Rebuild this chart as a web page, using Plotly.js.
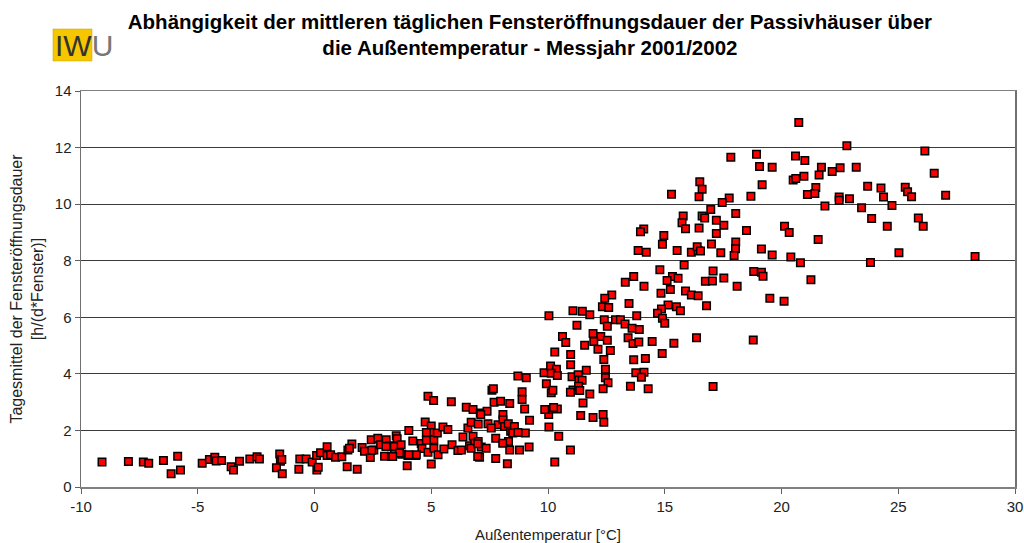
<!DOCTYPE html>
<html>
<head>
<meta charset="utf-8">
<script src="https://cdn.plot.ly/plotly-3.0.1.min.js"></script>
<style>html,body{margin:0;padding:0;background:#fff;}#chart{width:1024px;height:543px;}</style>
</head>
<body>
<div id="chart"></div>
<script>
// Außentemperatur [°C]
const temperature = [
-9.1,-7.97,-7.33,-7.1,-6.47,-6.14,-5.86,-5.74,-4.81,-4.5,-4.27,-4.21,-3.98,-3.57,-3.47,-3.21,-2.77,-2.46,-2.36,-1.49,-1.46,-1.4,-1.63,-1.38,-0.67,-0.63,-0.36,-0.1,0.09,0.1,0.16,0.26,0.54,0.54,0.69,
0.9,1.17,1.43,1.6,1.5,1.4,1.83,2.04,2.14,2.39,2.43,2.54,2.71,2.83,3.07,3.0,3.21,3.29,3.5,3.54,3.57,3.43,3.74,4.0,3.97,4.04,4.21,4.33,4.57,4.6,4.74,4.86,5.0,4.97,5.1,4.86,5.0,5.11,5.11,5.26,5.29,5.5,5.54,5.71,5.86,5.89,6.14,6.36,6.5,6.57,6.64,6.71,6.79,6.79,6.86,7.07,7.1,7.14,7.39,7.43,7.6,7.66,7.69,7.76,7.76,7.86,7.97,8.07,8.07,8.14,8.26,8.31,8.36,8.4,8.36,8.71,8.89,8.89,9.0,9.03,9.07,9.19,9.21,9.83,9.93,10.03,10.11,10.14,10.29,10.36,10.4,10.46,10.0,9.86,
7.01,4.79,4.79,4.36,4.04,3.42,3.71,3.64,3.35,3.06,6.29,6.71,6.99,7.01,2.45,7.12,8.3,7.57,8.56,8.49,8.71,7.35,8.06,8.78,6.99,
13.86,14.21,15.53,16.14,16.43,15.83,14.79,15.33,15.57,15.1,13.67,13.31,14.11,15.24,14.84,15.89,16.14,16.43,12.73,12.43,12.33,12.6,13.47,15.14,15.5,15.67,14.86,14.69,14.9,15.0,10.04,11.07,11.47,11.79,11.24,12.41,12.54,12.89,13.1,13.3,13.6,13.8,13.91,10.62,10.76,11.93,12.26,12.54,11.57,11.96,12.14,12.67,10.29,10.97,10.97,12.39,11.64,12.46,13.43,13.64,13.89,14.46,15.39,13.67,14.17,14.89,16.36,13.76,14.11,14.0,13.53,14.29,10.36,10.14,10.4,11.03,11.29,11.33,11.46,12.46,12.57,12.36,10.21,11.07,10.96,11.31,11.36,11.79,11.5,10.24,11.4,11.93,12.36,12.39,10.04,10.96,
16.5,16.6,16.47,15.29,19.17,18.69,17.76,17.46,16.97,18.04,15.79,16.6,16.71,15.74,15.89,17.21,17.53,16.47,17.21,18.5,14.1,13.96,14.96,14.9,16.39,16.53,17.0,17.4,18.04,18.03,17.97,19.14,19.6,17.07,18.81,19.14,19.21,16.74,17.04,17.53,18.1,19.5,16.79,18.79,
20.74,22.8,26.14,17.83,18.93,20.6,21.0,19.06,19.6,21.71,22.51,23.2,22.17,26.54,20.5,20.61,20.96,21.61,21.47,21.43,21.11,22.47,22.47,22.91,23.69,24.26,25.3,25.4,25.57,24.37,24.73,27.03,23.43,21.86,23.86,24.53,25.86,26.07,20.13,20.33,21.57,20.4,20.81,23.81,25.03,28.29,21.26,20.11,17.07
];
// Tagesmittel der Fensteröffnungsdauer [h/(d*Fenster)]
const openingHours = [
0.88,0.9,0.88,0.84,0.94,0.47,1.09,0.6,0.84,0.97,1.05,0.92,0.94,0.72,0.6,0.91,0.99,1.07,0.99,1.17,0.91,0.97,0.68,0.47,0.63,0.99,0.99,0.88,1.11,0.6,0.7,1.21,1.42,1.11,1.14,
1.05,1.07,1.31,1.52,1.37,0.72,0.63,1.4,1.26,1.04,1.67,1.31,1.72,1.49,1.67,1.09,1.46,1.09,1.81,1.71,1.46,1.26,1.16,1.11,0.75,2.0,1.63,1.11,1.54,1.36,2.3,3.21,2.16,1.93,3.06,1.23,0.81,1.67,1.37,1.91,1.14,2.12,1.34,2.03,3.01,1.49,1.29,1.77,2.82,2.09,1.46,2.29,2.74,1.79,1.55,1.05,2.62,1.41,2.68,2.24,3.42,3.47,3.0,1.72,1.01,2.2,3.03,2.56,2.38,2.14,0.82,1.61,2.95,1.97,1.31,3.92,3.37,3.09,2.76,1.91,3.86,1.41,2.36,4.04,3.65,2.56,4.28,3.33,0.88,4.04,2.76,1.79,2.74,2.74,
2.23,1.93,1.65,1.14,1.14,1.43,1.49,1.2,1.08,1.43,1.31,1.37,1.08,1.61,1.3,2.56,2.24,2.09,2.14,1.91,1.93,1.37,1.55,1.31,1.53,
8.36,8.3,8.36,8.3,8.36,7.85,7.68,7.44,7.38,7.3,7.44,7.24,7.1,6.98,6.85,6.93,6.79,6.76,6.79,6.67,6.37,6.35,6.49,6.43,6.37,6.23,6.29,6.14,5.97,5.79,6.05,6.23,6.21,6.09,5.72,5.91,5.68,5.91,5.91,5.76,5.61,6.05,5.57,5.32,5.11,5.43,5.32,5.19,5.01,5.14,4.87,4.83,4.77,4.68,4.32,4.51,4.13,4.16,5.28,5.07,5.13,5.14,5.08,4.5,4.54,4.72,5.28,4.04,4.06,3.88,3.56,3.47,4.16,4.02,3.94,3.9,3.97,3.78,3.77,3.86,3.69,3.47,3.42,3.43,3.35,3.56,3.41,3.29,2.97,2.81,2.53,2.46,2.56,2.29,2.12,1.31,
10.79,10.53,10.26,10.35,10.69,10.28,10.22,10.06,9.81,9.67,9.58,9.58,9.51,9.34,9.13,9.43,9.25,9.16,8.96,9.07,9.12,9.02,8.89,8.58,8.49,8.34,8.59,8.28,8.66,8.42,8.18,8.41,8.2,7.64,7.62,7.59,7.45,7.27,7.28,7.39,7.1,6.67,6.41,5.2,
12.89,12.06,11.88,11.66,11.76,11.7,11.54,11.33,11.3,11.3,11.29,11.3,11.15,11.09,10.85,10.91,10.99,11.03,10.59,10.38,10.34,10.25,10.14,10.19,10.63,10.57,10.6,10.44,10.26,10.25,9.95,10.31,9.87,9.93,9.49,9.22,9.51,9.22,9.22,9.0,8.75,8.13,7.93,7.94,8.28,8.15,7.33,6.57,3.55
];
const xTickVals = [-10,-5,0,5,10,15,20,25,30];
const yTickVals = [0,2,4,6,8,10,12,14];

const font = 'Liberation Sans, Arial, sans-serif';

const trace = {
  type: 'scatter',
  mode: 'markers',
  x: temperature,
  y: openingHours,
  marker: {symbol: 'square', size: 7.5, color: '#ff0000', line: {color: '#000000', width: 1.5}},
  hoverinfo: 'x+y',
  showlegend: false
};

const layout = {
  width: 1024, height: 543,
  margin: {l: 81, r: 9, t: 91, b: 56},
  paper_bgcolor: '#ffffff',
  plot_bgcolor: '#ffffff',
  font: {family: font, size: 15, color: '#222'},
  title: {
    text: '<b>Abhängigkeit der mittleren täglichen Fensteröffnungsdauer der Passivhäuser über<br>die Außentemperatur - Messjahr 2001/2002</b>',
    font: {family: font, size: 20.5, color: '#000'},
    x: 0.5175, xanchor: 'center', xref: 'container',
    y: 0.947, yanchor: 'top', yref: 'container'
  },
  xaxis: {
    range: [-10, 30], tickvals: xTickVals, ticktext: xTickVals.map(String),
    showgrid: false, zeroline: false,
    showline: true, linecolor: '#808080', linewidth: 1.5, mirror: true,
    ticks: 'outside', ticklen: 5, tickcolor: '#606060',
    tickfont: {family: font, size: 15, color: '#222'},
    title: {text: 'Außentemperatur [°C]', font: {family: font, size: 15, color: '#222'}, standoff: 18}
  },
  yaxis: {
    range: [0, 14], tickvals: yTickVals, ticktext: yTickVals.map(String),
    showgrid: true, gridcolor: '#3a3a3a', gridwidth: 1, zeroline: false,
    showline: true, linecolor: '#707070', linewidth: 1.5, mirror: true,
    ticks: 'outside', ticklen: 5, tickcolor: '#606060',
    tickfont: {family: font, size: 15, color: '#222'},
    title: {text: 'Tagesmittel der Fensteröffnungsdauer<br>[h/(d*Fenster)]', font: {family: font, size: 16, color: '#222'}, standoff: 7}
  },
  shapes: [{
    type: 'rect', xref: 'paper', yref: 'paper',
    x0: -0.030, x1: 0.0118, y0: 1.0758, y1: 1.1566,
    fillcolor: '#f6c700', line: {color: '#c9a200', width: 0.5}, layer: 'below'
  }],
  annotations: [{
    xref: 'paper', yref: 'paper', x: -0.0305, y: 1.115, xanchor: 'left', yanchor: 'middle',
    text: 'IW<span style="color:#777">U</span>', showarrow: false,
    font: {family: font, size: 30, color: '#333'}
  }]
};

Plotly.newPlot('chart', [trace], layout, {displayModeBar: false, staticPlot: true});
</script>
</body>
</html>
